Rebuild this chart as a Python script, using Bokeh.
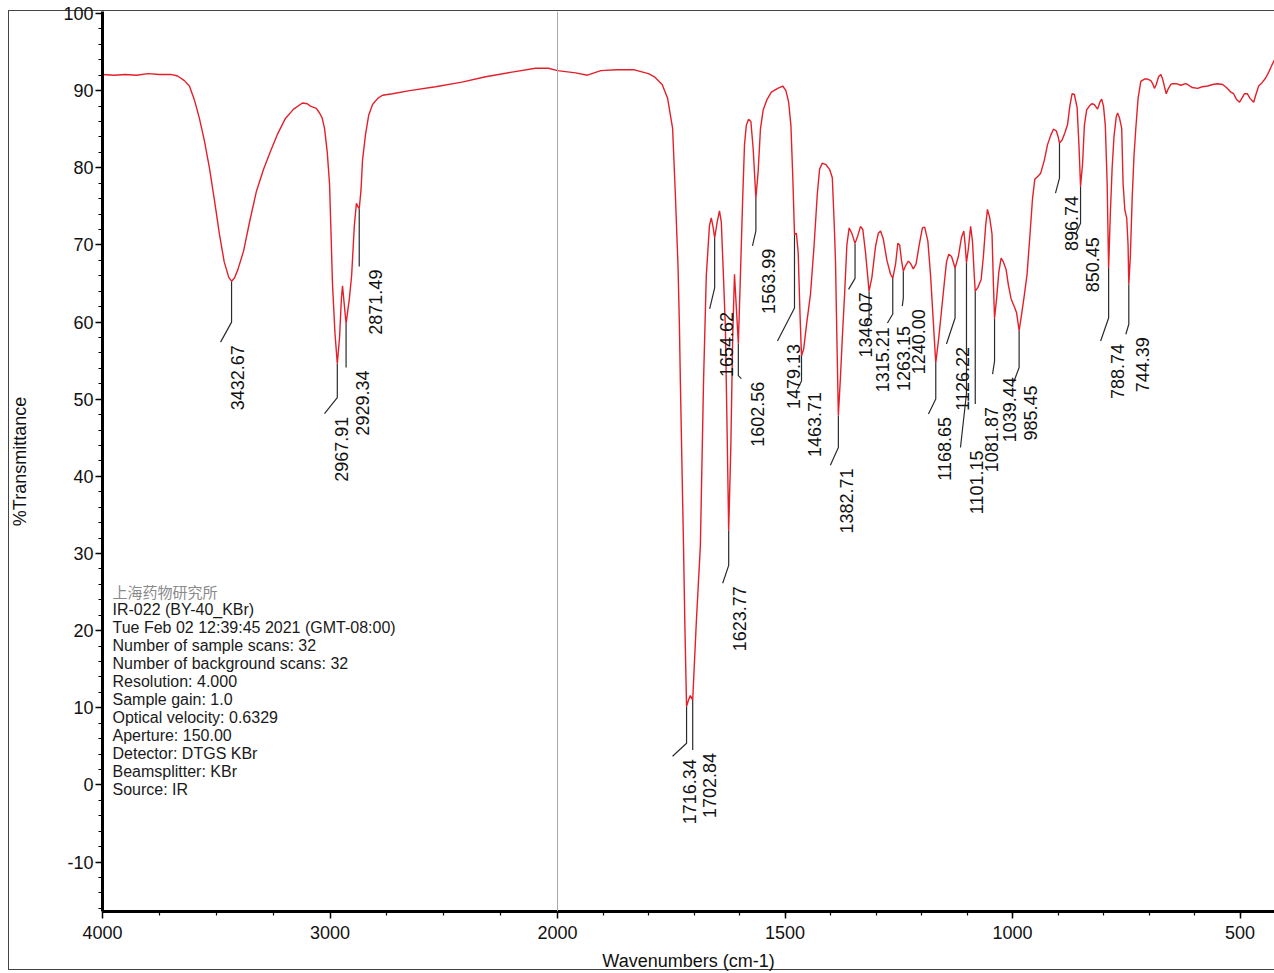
import numpy as np
from bokeh.plotting import figure
from bokeh.models import FixedTicker, Span
from bokeh.core.properties import value
from bokeh.embed import file_html
from bokeh.resources import INLINE

# ---------------- data ----------------
wn_high = [4000, 3950, 3900, 3850, 3800, 3750, 3700, 3670, 3640, 3618, 3596, 3574, 3552, 3530,
           3508, 3486, 3465, 3445, 3432.67, 3420, 3405, 3380, 3352, 3323, 3292, 3262, 3230, 3196,
           3160, 3121, 3100, 3086, 3060, 3046, 3035, 3024, 3012, 3002, 2995, 2989, 2978, 2967.91,
           2958, 2950, 2945, 2938, 2929.34, 2915, 2905, 2893, 2884, 2878, 2871.49, 2864, 2857,
           2844, 2830, 2813, 2790, 2769, 2725, 2650, 2536, 2420, 2316, 2200, 2097, 2040, 2000]
t_high = [92.1, 92.0, 92.1, 92.0, 92.2, 92.1, 92.1, 91.9, 91.3, 90.6, 88.8, 86.4, 83.5, 80.0,
          75.8, 71.4, 67.8, 65.8, 65.3, 65.7, 66.8, 69.2, 73.2, 77.0, 79.8, 82.1, 84.4, 86.4,
          87.6, 88.4, 88.3, 88.0, 87.7, 87.1, 86.5, 85.1, 82.0, 77.9, 71.0, 64.9, 58.5, 54.6,
          58.0, 63.0, 64.7, 62.5, 59.8, 63.0, 66.0, 72.5, 75.4, 75.0, 74.7, 77.0, 81.0,
          84.3, 86.8, 88.2, 89.0, 89.4, 89.6, 90.0, 90.5, 91.1, 91.8, 92.4, 92.9, 92.9, 92.6]

wn_low = [1960, 1934, 1905, 1870, 1831, 1800, 1787, 1770, 1758, 1747, 1741, 1735, 1732, 1730,
          1726, 1723, 1720, 1716.34, 1712, 1708, 1702.84, 1695, 1686, 1679, 1673, 1666, 1662,
          1658, 1654.62, 1649, 1644, 1640, 1636, 1631, 1627, 1623.77, 1619, 1615, 1611, 1608,
          1602.56, 1598, 1593, 1589, 1585, 1580, 1575, 1570, 1563.99, 1559, 1554, 1548, 1540,
          1530, 1516, 1505, 1498, 1492, 1487, 1483, 1479.13, 1475, 1471, 1467, 1463.71, 1459,
          1452, 1444, 1436, 1429, 1424, 1418, 1410, 1402, 1396, 1392, 1389, 1386, 1382.71, 1378,
          1374, 1369, 1364, 1359, 1353, 1346.07, 1340, 1334, 1329, 1323, 1315.21, 1309, 1301,
          1295, 1290, 1284, 1276, 1268, 1263.15, 1257, 1252, 1248, 1244, 1240.00, 1235, 1229,
          1224, 1218, 1212, 1205, 1198, 1193, 1186, 1180, 1174, 1168.65, 1162, 1156, 1150, 1145,
          1140, 1134, 1126.22, 1119, 1112, 1107, 1104, 1101.15, 1097, 1092, 1088, 1084, 1081.87,
          1076, 1069, 1064, 1059, 1055, 1050, 1045, 1042, 1039.44, 1035, 1030, 1025, 1020, 1014,
          1009, 1003, 996, 991, 985.45, 980, 974, 968, 962, 956, 951, 944, 938, 930, 923, 916,
          910, 904, 900, 896.74, 891, 885, 879, 874, 869, 864, 858, 854, 850.45, 846, 842, 837,
          831, 826, 820, 813, 808, 804, 800, 796, 792, 788.74, 785, 781, 777, 772, 769, 765, 760,
          757, 753, 749, 746, 744.39, 741, 737, 733, 729, 724, 718, 710, 703, 696, 692, 688, 684,
          679, 674, 670, 666, 662, 658, 652, 648, 640, 630, 620, 615, 605, 593, 583, 571, 560,
          550, 538, 528, 520, 514, 508, 501, 496, 490, 484, 478, 470, 465, 459, 452, 444, 436,
          430, 424]
t_low = [92.3, 92.0, 92.6, 92.7, 92.7, 92.2, 91.8, 90.8, 89.0, 85.1, 76.6, 67.0, 59.3, 52.4,
         40.0, 30.8, 20.5, 10.2, 11.0, 11.6, 11.0, 21.0, 31.0, 52.4, 66.0, 72.5, 73.5,
         72.3, 70.9, 73.0, 74.4, 73.0, 67.0, 59.3, 45.0, 33.0, 44.0, 58.0, 66.2, 63.0,
         57.2, 66.0, 76.0, 83.0, 85.5, 86.3, 86.0, 82.5, 76.1, 79.5, 85.0, 87.5, 88.8,
         89.8, 90.3, 90.6, 90.0, 88.5, 85.5, 79.0, 71.4, 71.5, 69.0, 61.0, 55.6, 56.5,
         60.0, 63.6, 70.0, 76.6, 79.8, 80.6, 80.4, 79.8, 78.7, 73.0, 67.9, 58.0, 47.9, 53.0,
         58.0, 63.6, 70.0, 72.2, 71.5, 70.2, 71.2, 72.4, 72.0, 69.0, 64.0, 65.8, 69.8,
         71.5, 71.8, 70.8, 68.0, 66.2, 65.7, 67.5, 70.2, 70.0, 68.0, 66.6, 67.3, 67.9,
         67.6, 66.9, 67.5, 70.0, 72.2, 72.3, 70.5, 66.0, 60.0, 54.7, 58.0, 61.5, 65.0, 67.8,
         68.8, 68.5, 67.0, 68.5, 71.0, 71.8, 70.0, 67.7, 69.5, 72.4, 70.5, 66.0, 64.0,
         64.5, 65.5, 68.5, 72.5, 74.6, 73.5, 71.4, 65.0, 60.5, 63.0, 66.5, 68.3, 67.8, 66.8,
         64.8, 63.0, 62.0, 61.2, 58.9, 61.0, 63.5, 66.2, 71.0, 76.0, 78.5, 78.9, 79.3, 81.0, 83.0, 84.2,
         85.0, 84.8, 84.1, 83.2, 83.6, 84.5, 85.6, 88.0, 89.6, 89.5, 87.8, 83.0, 77.6, 80.5, 85.5, 87.5,
         88.0, 88.3, 88.2, 87.6, 88.5, 88.9, 88.0, 85.5, 78.0, 67.0, 74.0, 80.0, 84.0, 86.6, 87.1, 86.5, 85.1,
         78.0, 74.5, 73.5, 70.0, 64.9, 68.5, 76.0, 81.5, 85.1, 89.0, 91.2, 91.5, 91.5, 91.3, 90.9, 90.3, 90.8,
         91.8, 92.1, 91.5, 90.5, 89.6, 90.2, 90.8, 90.9, 90.9, 90.7, 90.9, 90.8, 90.4, 90.3, 90.5, 90.6, 90.8,
         90.9, 90.8, 90.3, 89.8, 89.6, 88.9, 88.5, 89.0, 89.6, 89.6, 89.0, 88.5, 89.5, 90.6, 91.0, 91.6, 92.5,
         93.3, 94.0]

peak_wn = [3432.67, 2967.91, 2929.34, 2871.49, 1716.34, 1702.84, 1654.62, 1623.77, 1602.56,
           1563.99, 1479.13, 1463.71, 1382.71, 1346.07, 1315.21, 1263.15, 1240.00, 1168.65,
           1126.22, 1101.15, 1081.87, 1039.44, 985.45, 896.74, 850.45, 788.74, 744.39]
peak_t = [65.3, 54.6, 59.8, 74.7, 10.2, 11.0, 70.9, 33.0, 57.2,
          76.1, 71.4, 55.6, 47.9, 70.2, 64.0, 65.7, 66.6, 54.7,
          67.0, 67.7, 64.0, 60.5, 58.9, 83.2, 77.6, 67.0, 64.9]
peak_text = ["%.2f" % w for w in peak_wn]

x_tick_wn = [4000, 3000, 2000, 1500, 1000, 500]
y_tick_vals = [-10, 0, 10, 20, 30, 40, 50, 60, 70, 80, 90, 100]

info_title = "上海药物研究所"
info_lines = ["IR-022 (BY-40_KBr)",
              "Tue Feb 02 12:39:45 2021 (GMT-08:00)",
              "Number of sample scans:  32",
              "Number of background scans:  32",
              "Resolution:   4.000",
              "Sample gain:  1.0",
              "Optical velocity:  0.6329",
              "Aperture:  150.00",
              "Detector:  DTGS KBr",
              "Beamsplitter:  KBr",
              "Source:  IR"]

# ---------------- layout (pixels) ----------------
leader_drop_px = [41, 34, 44, 58, 37, 50, 50, 35, 32, 33, 74, 25, 32, 35, 27, 36, 27, 36,
                  50, 131, 113, 43, 37, 35, 37, 50, 40]
leader_dx_px = [-11, -12.8, 0, 0, -14, 0, -5, -6, 3, -3.4, -17, -4, -8, -6.5, -2.6, -5.3, -1,
                -7.3, -8.6, -6, 0, -2, -5.6, -4, -5, -8, -3]
leader_dy_px = [20, 16, 0, 0, 13, 0, 21, 18, 3, 15, 33, 8, 18, 11, 6, 9, 8, 15, 26, 54, 0, 13,
                15, 15, 11, 23, 10]

W, H = 1274, 973
B_LEFT, B_RIGHT, B_TOP, B_BOTTOM = 102, 0, 11, 61
FRAME_W = W - B_LEFT - B_RIGHT
FRAME_H = H - B_TOP - B_BOTTOM
PX_PER_U = 0.2275        # pixels per plotted unit (4000-2000 cm-1 at half scale)
PX_PER_T = 7.723         # pixels per %T
U_END = FRAME_W / PX_PER_U
T_TOP = 100 + 2 / PX_PER_T
T_BOTTOM = T_TOP - FRAME_H / PX_PER_T
BREAK = 2000.0


def to_u(w):
    w = np.asarray(w, dtype=float)
    return np.where(w >= BREAK, 4000.0 - w, 2000.0 + 2.0 * (BREAK - w))


def page_to_u(px):
    return (px - B_LEFT) / PX_PER_U


def page_to_t(py):
    return T_TOP - (py - B_TOP) / PX_PER_T


p = figure(width=W, height=H, x_range=(0, U_END), y_range=(T_BOTTOM, T_TOP),
           output_backend="svg", toolbar_location=None,
           min_border_left=B_LEFT, min_border_right=B_RIGHT,
           min_border_top=B_TOP, min_border_bottom=B_BOTTOM)
p.xgrid.visible = False
p.ygrid.visible = False
p.outline_line_color = None
p.border_fill_alpha = 0
p.background_fill_alpha = 0
p.styles = {
    "background-image": "linear-gradient(#444,#444), linear-gradient(#444,#444), linear-gradient(#444,#444)",
    "background-position": "8px 10px, 8px 10px, 8px 969px",
    "background-size": "1px 960px, 1266px 1px, 1266px 1px",
    "background-repeat": "no-repeat",
}

# axes
xa = p.xaxis[0]
ya = p.yaxis[0]
minor_u = [float(to_u(w)) for w in [3750, 3500, 3250, 2750, 2500, 2250]] + \
          [float(to_u(w)) for w in range(1900, 420, -100)]
xa.ticker = FixedTicker(ticks=[float(to_u(w)) for w in x_tick_wn], minor_ticks=minor_u)
xa.major_label_overrides = {float(to_u(w)): str(w) for w in x_tick_wn}
ya.ticker = FixedTicker(ticks=y_tick_vals, minor_ticks=list(range(-16, 101, 2)))
ya.major_label_overrides = {v: str(v) for v in y_tick_vals}
for ax in (xa, ya):
    ax.axis_line_width = 3
    ax.axis_line_color = "black"
    ax.major_tick_line_width = 1.5
    ax.minor_tick_line_width = 1.2
    ax.major_tick_out = 7
    ax.major_tick_in = 0
    ax.minor_tick_out = 4
    ax.minor_tick_in = 0
    ax.major_label_text_font = "Liberation Sans"
    ax.major_label_text_font_size = "18px"
    ax.major_label_text_color = "#111111"
    ax.axis_label_text_font = "Liberation Sans"
    ax.axis_label_text_font_size = "18px"
    ax.axis_label_text_font_style = "normal"
    ax.axis_label_text_color = "#111111"
xa.axis_label = "Wavenumbers (cm-1)"
ya.axis_label = "%Transmittance"
xa.major_label_standoff = 7
xa.axis_label_standoff = 9
ya.major_label_standoff = 2
ya.axis_label_standoff = 30

p.add_layout(Span(location=float(to_u(BREAK)), dimension="height",
                  line_color="#a9a9a9", line_width=1))

# leader lines
pu = to_u(peak_wn)
pt = np.asarray(peak_t, dtype=float)
kink_t = pt - np.asarray(leader_drop_px) / PX_PER_T
end_u = pu + np.asarray(leader_dx_px) / PX_PER_U
end_t = kink_t - np.asarray(leader_dy_px) / PX_PER_T
xs = [[a, a, b] for a, b in zip(pu, end_u)]
ys = [[a, b, c] for a, b, c in zip(pt, kink_t, end_t)]
p.multi_line(xs, ys, line_color="#2b2b2b", line_width=1.2)

# spectrum
wn_all = wn_high + wn_low
t_all = t_high + t_low
p.line(to_u(wn_all), t_all, line_color="#e3202a", line_width=1.4)

# peak labels
p.text(x=end_u, y=end_t, text=peak_text, angle=np.pi / 2, text_align="right",
       text_baseline="alphabetic", x_offset=16.5, y_offset=3,
       text_font=value("Liberation Sans"), text_font_size="18px", text_color="#111111")

# info block
step = 17.98
p.text(x=[page_to_u(112)], y=[page_to_t(592)], text=[info_title], text_baseline="middle",
       text_align="left", text_font=value("Noto Sans CJK SC"), text_font_size="15px",
       text_color="#8a8a8a")
p.text(x=[page_to_u(112)] * len(info_lines),
       y=[page_to_t(592 + step * (i + 1)) for i in range(len(info_lines))],
       text=info_lines, text_baseline="middle", text_align="left",
       text_font=value("Liberation Sans"), text_font_size="16px", text_color="#1a1a1a")

open("out.html", "w").write(file_html(p, INLINE, "IR spectrum"))
